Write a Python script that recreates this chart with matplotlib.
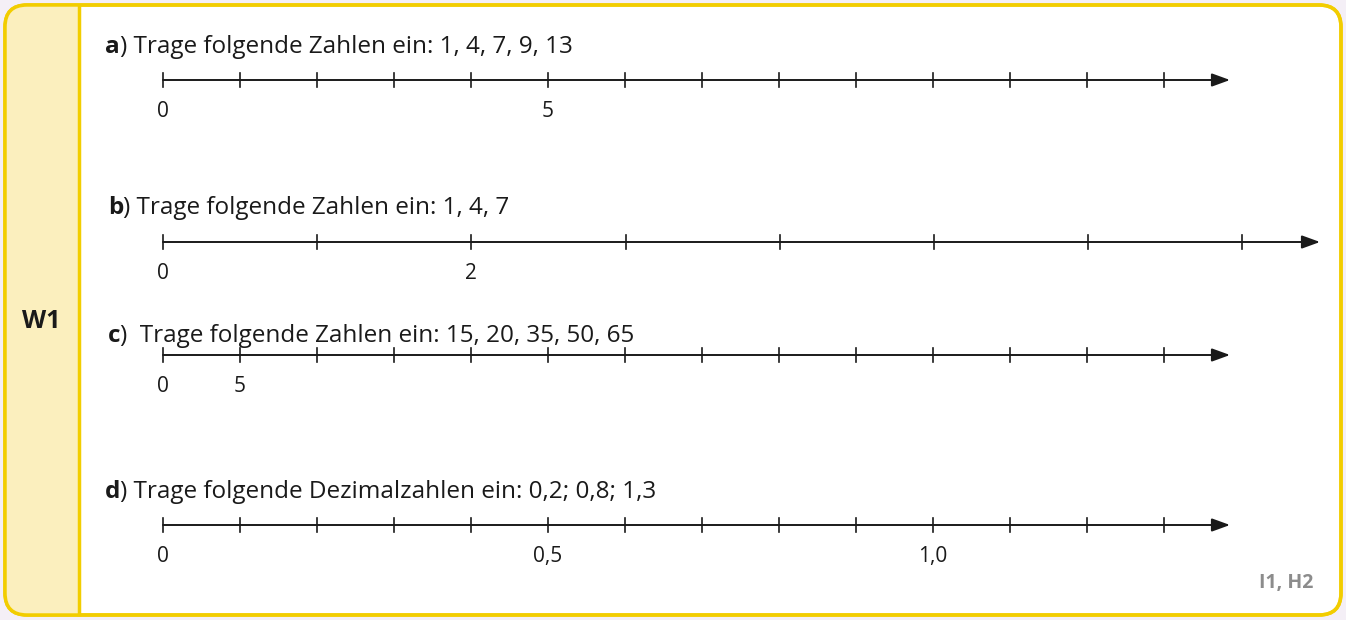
import matplotlib
matplotlib.use("Agg")
import matplotlib.pyplot as plt
from matplotlib.patches import FancyBboxPatch, Rectangle

plt.rcParams['font.family'] = ['Open Sans', 'DejaVu Sans']

# tasks: letter, text, number of ticks, labelled ticks
letters = ['a', 'b', 'c', 'd']
texts = [') Trage folgende Zahlen ein: 1, 4, 7, 9, 13',
         ') Trage folgende Zahlen ein: 1, 4, 7',
         ')  Trage folgende Zahlen ein: 15, 20, 35, 50, 65',
         ') Trage folgende Dezimalzahlen ein: 0,2; 0,8; 1,3']
n_ticks = [14, 8, 14, 14]
tick_labels = [{0: '0', 5: '5'},
               {0: '0', 2: '2'},
               {0: '0', 1: '5'},
               {0: '0', 5: '0,5', 10: '1,0'}]

# layout in pixels
line_y = [80, 242, 355, 525]
text_y = [53, 214, 342, 498]
text_x = [105, 108, 108, 105]
spacing = [77, 154.2, 77, 77]
arrow_end = [1230, 1320, 1230, 1230]
x0 = 163

fig = plt.figure(figsize=(13.46, 6.2), dpi=100)
fig.patch.set_facecolor('#f4eff6')
ax = fig.add_axes([0, 0, 1, 1])
ax.set_xlim(0, 1346)
ax.set_ylim(620, 0)
ax.axis('off')

yellow = '#f2cd00'
box = FancyBboxPatch((5, 5), 1336, 610, boxstyle="round,pad=0,rounding_size=22",
                     fc='white', ec=yellow, lw=2.5)
ax.add_patch(box)
left = FancyBboxPatch((5, 5), 74, 610, boxstyle="round,pad=0,rounding_size=22",
                      fc='#fbefbe', ec='none')
ax.add_patch(left)
ax.add_patch(Rectangle((50, 6), 29, 608, fc='#fbefbe', ec='none'))
ax.plot([79, 79], [6, 614], color=yellow, lw=2.5)
# redraw border on top
box2 = FancyBboxPatch((5, 5), 1336, 610, boxstyle="round,pad=0,rounding_size=22",
                      fc='none', ec=yellow, lw=2.5)
ax.add_patch(box2)

ax.text(41, 321, 'W1', fontsize=18, fontweight='bold', ha='center', va='center',
        color='#1a1a1a')

for i in range(4):
    y = line_y[i]
    t = ax.text(text_x[i], text_y[i], letters[i], fontsize=17.5, fontweight='bold',
                ha='left', va='baseline', color='#1a1a1a')
    ax.annotate(texts[i], xy=(1, 0), xycoords=t, fontsize=17.5, ha='left',
                va='bottom', color='#1a1a1a')
    ax.annotate('', xy=(arrow_end[i], y), xytext=(x0, y),
                arrowprops=dict(arrowstyle='-|>,head_length=1.1,head_width=0.4',
                                color='#1a1a1a', lw=1.4, shrinkA=0, shrinkB=0))
    for k in range(n_ticks[i]):
        tx = x0 + k * spacing[i]
        ax.plot([tx, tx], [y - 7, y + 7], color='#1a1a1a', lw=1.2)
        if k in tick_labels[i]:
            ax.text(tx, y + 37, tick_labels[i][k], fontsize=15, ha='center',
                    va='baseline', color='#1a1a1a')

ax.text(1286, 583, 'I1, H2', fontsize=14, fontweight='bold', ha='center',
        va='center', color='#8c8c8c')

fig.savefig('out.png', dpi=100, facecolor=fig.get_facecolor())
